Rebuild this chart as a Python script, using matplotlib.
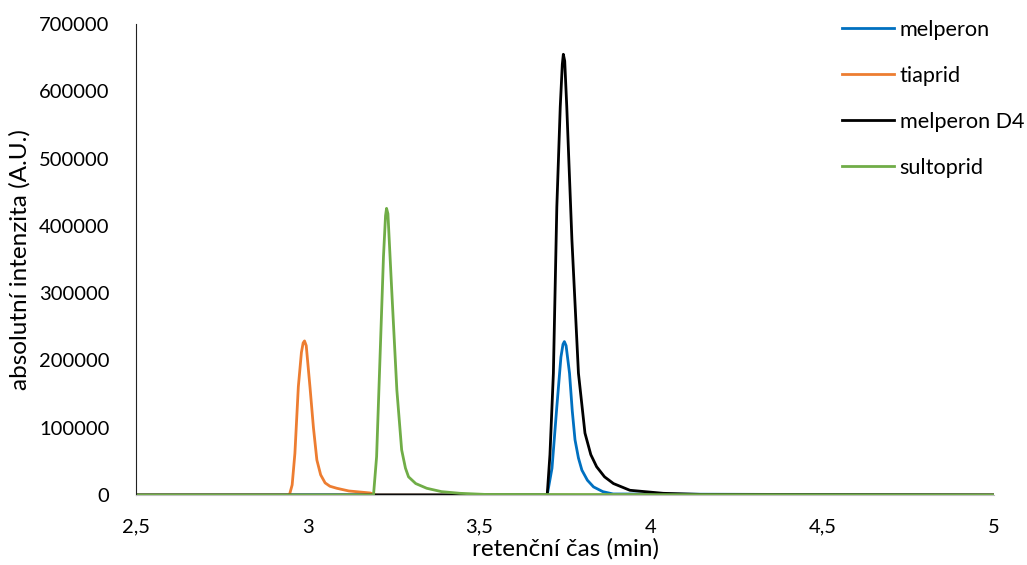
import matplotlib.pyplot as plt

# retention time (min) and intensity for each compound
melperon_t = [2.50, 3.698, 3.712, 3.726, 3.738, 3.744, 3.748, 3.753, 3.763, 3.771, 3.779, 3.789, 3.799, 3.815, 3.833, 3.860, 3.890, 5.00]
melperon_y = [0, 0, 40000, 131000, 205000, 224000, 228000, 222000, 181000, 125000, 82000, 55000, 37000, 22000, 12000, 5000, 1500, 0]

tiaprid_t = [2.50, 2.947, 2.955, 2.963, 2.973, 2.982, 2.987, 2.991, 2.996, 3.007, 3.017, 3.027, 3.038, 3.051, 3.065, 3.085, 3.120, 3.182, 3.200, 5.00]
tiaprid_y = [0, 0, 15000, 62000, 161000, 212000, 226000, 229000, 222000, 160000, 100000, 52000, 30000, 18000, 13000, 10000, 6000, 3000, 0, 0]

melperonD4_t = [2.50, 3.195, 3.500, 3.698, 3.706, 3.716, 3.726, 3.736, 3.742, 3.745, 3.749, 3.755, 3.770, 3.789, 3.808, 3.825, 3.842, 3.865, 3.891, 3.939, 4.036, 4.150, 5.00]
melperonD4_y = [0, 0, 0, 0, 60000, 181000, 428000, 577000, 640000, 655000, 645000, 577000, 379000, 181000, 92000, 60000, 42000, 27000, 17000, 7000, 2500, 800, 0]

sultoprid_t = [2.50, 3.192, 3.201, 3.211, 3.221, 3.227, 3.230, 3.234, 3.245, 3.260, 3.274, 3.285, 3.294, 3.315, 3.347, 3.390, 3.444, 3.520, 5.00]
sultoprid_y = [0, 0, 57000, 205000, 354000, 415000, 426000, 418000, 305000, 156000, 67000, 40000, 27000, 17000, 10000, 5000, 2500, 800, 0]

x_ticks = [2.5, 3, 3.5, 4, 4.5, 5]
x_labels = ['2,5', '3', '3,5', '4', '4,5', '5']
y_ticks = [0, 100000, 200000, 300000, 400000, 500000, 600000, 700000]

plt.rcParams['font.family'] = ['Lato', 'DejaVu Sans']

fig = plt.figure(figsize=(10.27, 5.65), dpi=100)
ax = fig.add_axes([0.1324, 0.1239, 0.8356, 0.8336])

lw = 2.0
ax.plot(melperon_t, melperon_y, color='#0070C0', lw=lw, label='melperon')
ax.plot(tiaprid_t, tiaprid_y, color='#ED7D31', lw=lw, label='tiaprid')
ax.plot(melperonD4_t, melperonD4_y, color='#000000', lw=lw, label='melperon D4')
ax.plot(sultoprid_t, sultoprid_y, color='#70AD47', lw=lw, label='sultoprid')

ax.set_xlim(2.5, 5)
ax.set_ylim(0, 700000)
ax.set_xticks(x_ticks)
ax.set_xticklabels(x_labels)
ax.set_yticks(y_ticks)
ax.tick_params(length=0, labelsize=14.5, colors='black')
ax.tick_params(axis='y', pad=19)
ax.tick_params(axis='x', pad=17)

for s in ['top', 'right']:
    ax.spines[s].set_visible(False)
ax.spines['left'].set_color('#222222')
ax.spines['bottom'].set_color('#BFBFBF')

ax.set_xlabel('retenční čas (min)', fontsize=17.5, labelpad=2)
ax.set_ylabel('absolutní intenzita (A.U.)', fontsize=17.5, labelpad=6)

fig.legend(loc='upper left', bbox_to_anchor=(0.8004, 1.0), frameon=False,
           fontsize=15.6, handlelength=2.4, handletextpad=0.28, labelspacing=1.2)

fig.savefig('out.png', dpi=100)
